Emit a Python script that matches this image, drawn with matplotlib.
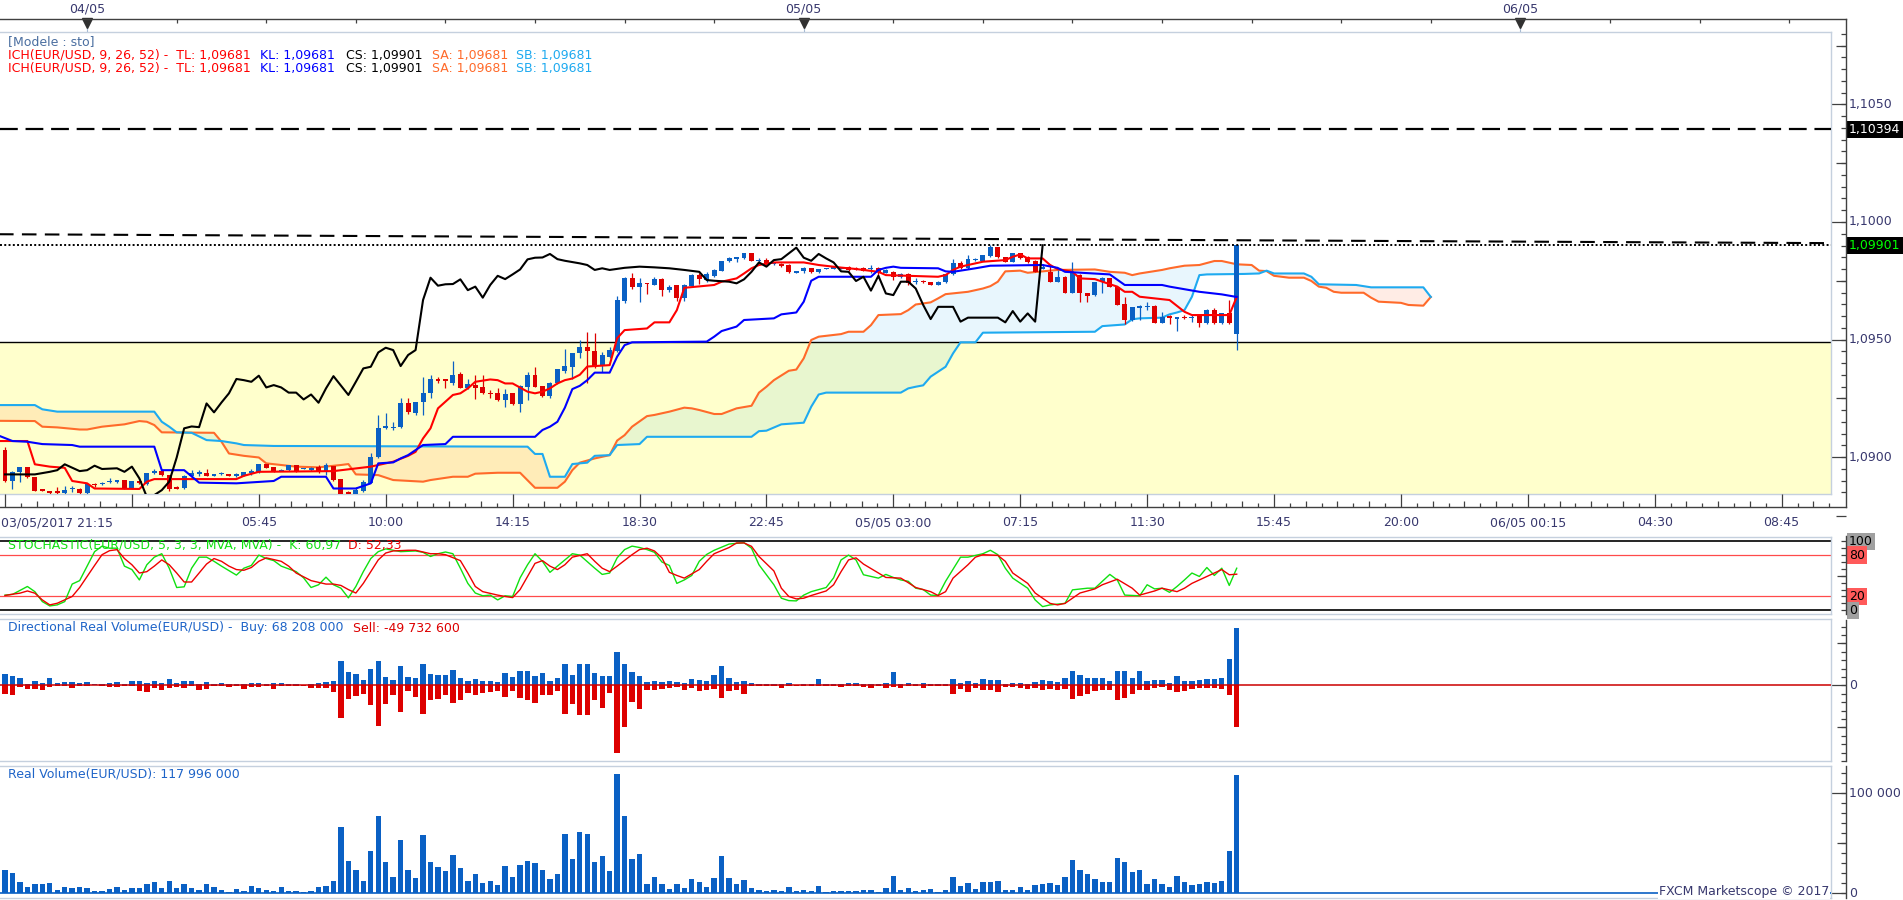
import numpy as np
import matplotlib
matplotlib.use("Agg")
import matplotlib.pyplot as plt
import matplotlib.transforms as mtransforms
from matplotlib.lines import Line2D
from matplotlib.collections import LineCollection

plt.rcParams['font.family'] = ['DejaVu Sans']
plt.rcParams['font.size'] = 9

# ---------------- candles, 15 min bars, bar 0 = 03/05/2017 21:15 ----------------
opens = [
    1.09030, 1.08898, 1.08935, 1.08956, 1.08913, 1.08862, 1.08855, 1.08855, 1.08845, 1.08864,
    1.08866, 1.08845, 1.08886, 1.08884, 1.08895, 1.08895, 1.08902, 1.08866, 1.08898, 1.08884,
    1.08930, 1.08940, 1.08923, 1.08874, 1.08869, 1.08920, 1.08931, 1.08930, 1.08923, 1.08929,
    1.08927, 1.08920, 1.08920, 1.08935, 1.08935, 1.08969, 1.08956, 1.08942, 1.08944, 1.08966,
    1.08950, 1.08944, 1.08956, 1.08937, 1.08961, 1.08906, 1.08852, 1.08838, 1.08857, 1.08891,
    1.08998, 1.09122, 1.09124, 1.09126, 1.09228, 1.09186, 1.09232, 1.09271, 1.09329, 1.09330,
    1.09316, 1.09353, 1.09295, 1.09306, 1.09299, 1.09272, 1.09271, 1.09242, 1.09271, 1.09224,
    1.09299, 1.09349, 1.09302, 1.09261, 1.09317, 1.09367, 1.09384, 1.09441, 1.09466, 1.09451,
    1.09387, 1.09427, 1.09451, 1.09664, 1.09763, 1.09725, 1.09740, 1.09732, 1.09757, 1.09710,
    1.09732, 1.09675, 1.09729, 1.09774, 1.09753, 1.09771, 1.09793, 1.09836, 1.09845, 1.09845,
    1.09866, 1.09836, 1.09838, 1.09822, 1.09821, 1.09817, 1.09786, 1.09793, 1.09803, 1.09786,
    1.09801, 1.09803, 1.09804, 1.09810, 1.09805, 1.09805, 1.09801, 1.09803, 1.09785, 1.09788,
    1.09764, 1.09777, 1.09745, 1.09747, 1.09743, 1.09734, 1.09743, 1.09778, 1.09827, 1.09803,
    1.09839, 1.09835, 1.09856, 1.09892, 1.09849, 1.09831, 1.09866, 1.09852, 1.09835, 1.09804,
    1.09788, 1.09746, 1.09767, 1.09700, 1.09774, 1.09696, 1.09689, 1.09743, 1.09760, 1.09725,
    1.09651, 1.09583, 1.09638, 1.09640, 1.09643, 1.09572, 1.09600, 1.09586, 1.09595, 1.09592,
    1.09604, 1.09571, 1.09625, 1.09571, 1.09611, 1.09523]
highs = [
    1.09044, 1.08940, 1.08958, 1.08958, 1.08915, 1.08866, 1.08857, 1.08874, 1.08876, 1.08876,
    1.08870, 1.08886, 1.08888, 1.08893, 1.08909, 1.08904, 1.08904, 1.08900, 1.08900, 1.08932,
    1.08951, 1.08942, 1.08925, 1.08876, 1.08922, 1.08944, 1.08944, 1.08947, 1.08929, 1.08937,
    1.08929, 1.08930, 1.08937, 1.08951, 1.08971, 1.08971, 1.08958, 1.08949, 1.08968, 1.08968,
    1.08954, 1.08956, 1.08966, 1.08973, 1.08963, 1.08908, 1.08855, 1.08874, 1.08902, 1.09015,
    1.09179, 1.09186, 1.09150, 1.09249, 1.09249, 1.09234, 1.09341, 1.09349, 1.09341, 1.09332,
    1.09408, 1.09363, 1.09334, 1.09349, 1.09349, 1.09285, 1.09295, 1.09289, 1.09273, 1.09305,
    1.09363, 1.09381, 1.09304, 1.09320, 1.09376, 1.09459, 1.09443, 1.09498, 1.09533, 1.09529,
    1.09448, 1.09469, 1.09685, 1.09767, 1.09784, 1.09760, 1.09742, 1.09764, 1.09760, 1.09730,
    1.09734, 1.09735, 1.09780, 1.09784, 1.09788, 1.09798, 1.09836, 1.09849, 1.09849, 1.09868,
    1.09868, 1.09845, 1.09845, 1.09830, 1.09825, 1.09820, 1.09793, 1.09810, 1.09805, 1.09800,
    1.09806, 1.09808, 1.09808, 1.09812, 1.09807, 1.09807, 1.09817, 1.09810, 1.09798, 1.09790,
    1.09781, 1.09781, 1.09763, 1.09753, 1.09745, 1.09748, 1.09780, 1.09841, 1.09834, 1.09859,
    1.09845, 1.09861, 1.09902, 1.09895, 1.09851, 1.09869, 1.09868, 1.09855, 1.09838, 1.09820,
    1.09820, 1.09796, 1.09769, 1.09831, 1.09777, 1.09699, 1.09745, 1.09764, 1.09763, 1.09727,
    1.09679, 1.09640, 1.09647, 1.09658, 1.09645, 1.09615, 1.09603, 1.09596, 1.09604, 1.09604,
    1.09606, 1.09628, 1.09635, 1.09613, 1.09668, 1.09902]
lows = [
    1.08895, 1.08866, 1.08893, 1.08910, 1.08855, 1.08855, 1.08840, 1.08840, 1.08842, 1.08852,
    1.08842, 1.08842, 1.08874, 1.08880, 1.08888, 1.08888, 1.08864, 1.08864, 1.08886, 1.08880,
    1.08928, 1.08920, 1.08855, 1.08862, 1.08866, 1.08909, 1.08920, 1.08918, 1.08920, 1.08925,
    1.08918, 1.08916, 1.08918, 1.08923, 1.08933, 1.08952, 1.08935, 1.08940, 1.08942, 1.08938,
    1.08947, 1.08942, 1.08930, 1.08923, 1.08900, 1.08820, 1.08825, 1.08830, 1.08852, 1.08889,
    1.08995, 1.09120, 1.09115, 1.09124, 1.09181, 1.09179, 1.09179, 1.09252, 1.09313, 1.09292,
    1.09306, 1.09292, 1.09290, 1.09245, 1.09268, 1.09249, 1.09240, 1.09214, 1.09222, 1.09190,
    1.09242, 1.09297, 1.09256, 1.09252, 1.09310, 1.09356, 1.09330, 1.09420, 1.09313, 1.09380,
    1.09363, 1.09420, 1.09448, 1.09654, 1.09715, 1.09661, 1.09692, 1.09730, 1.09685, 1.09703,
    1.09664, 1.09664, 1.09725, 1.09736, 1.09745, 1.09768, 1.09790, 1.09828, 1.09831, 1.09843,
    1.09833, 1.09817, 1.09818, 1.09815, 1.09810, 1.09785, 1.09783, 1.09781, 1.09783, 1.09783,
    1.09798, 1.09800, 1.09800, 1.09793, 1.09794, 1.09791, 1.09781, 1.09760, 1.09783, 1.09753,
    1.09760, 1.09732, 1.09735, 1.09739, 1.09732, 1.09732, 1.09740, 1.09776, 1.09800, 1.09800,
    1.09834, 1.09833, 1.09853, 1.09847, 1.09828, 1.09828, 1.09843, 1.09826, 1.09786, 1.09800,
    1.09743, 1.09743, 1.09697, 1.09697, 1.09661, 1.09661, 1.09686, 1.09700, 1.09722, 1.09645,
    1.09566, 1.09580, 1.09583, 1.09625, 1.09570, 1.09570, 1.09564, 1.09537, 1.09587, 1.09573,
    1.09554, 1.09568, 1.09568, 1.09568, 1.09568, 1.09455]
closes = [
    1.08898, 1.08937, 1.08956, 1.08913, 1.08857, 1.08859, 1.08845, 1.08845, 1.08859, 1.08868,
    1.08845, 1.08884, 1.08882, 1.08891, 1.08898, 1.08902, 1.08866, 1.08898, 1.08891, 1.08930,
    1.08940, 1.08923, 1.08866, 1.08866, 1.08920, 1.08930, 1.08933, 1.08920, 1.08927, 1.08931,
    1.08920, 1.08927, 1.08935, 1.08938, 1.08969, 1.08954, 1.08937, 1.08947, 1.08966, 1.08940,
    1.08952, 1.08954, 1.08937, 1.08966, 1.08902, 1.08830, 1.08838, 1.08859, 1.08895, 1.08998,
    1.09122, 1.09130, 1.09127, 1.09228, 1.09190, 1.09232, 1.09271, 1.09332, 1.09327, 1.09327,
    1.09349, 1.09295, 1.09310, 1.09292, 1.09271, 1.09270, 1.09242, 1.09268, 1.09225, 1.09302,
    1.09349, 1.09299, 1.09261, 1.09317, 1.09374, 1.09387, 1.09441, 1.09469, 1.09452, 1.09387,
    1.09434, 1.09455, 1.09668, 1.09763, 1.09725, 1.09739, 1.09738, 1.09757, 1.09710, 1.09725,
    1.09675, 1.09732, 1.09774, 1.09756, 1.09778, 1.09796, 1.09834, 1.09845, 1.09847, 1.09866,
    1.09835, 1.09838, 1.09821, 1.09826, 1.09814, 1.09788, 1.09790, 1.09803, 1.09786, 1.09798,
    1.09803, 1.09806, 1.09806, 1.09796, 1.09796, 1.09793, 1.09804, 1.09788, 1.09796, 1.09764,
    1.09777, 1.09739, 1.09748, 1.09745, 1.09734, 1.09746, 1.09778, 1.09827, 1.09803, 1.09841,
    1.09841, 1.09859, 1.09892, 1.09849, 1.09831, 1.09866, 1.09845, 1.09828, 1.09788, 1.09806,
    1.09746, 1.09767, 1.09700, 1.09781, 1.09696, 1.09685, 1.09743, 1.09760, 1.09725, 1.09647,
    1.09583, 1.09637, 1.09640, 1.09643, 1.09572, 1.09594, 1.09590, 1.09594, 1.09593, 1.09594,
    1.09571, 1.09625, 1.09571, 1.09611, 1.09571, 1.09901]

# ---------------- Ichimoku lines (bar index, price) ----------------
tenkan_idx = [-1, 3, 4, 6, 8, 9, 11, 12, 18, 19, 20, 31, 32, 34, 44, 49, 52, 54, 55, 56,
              57, 58, 60, 61, 62, 63, 65, 66, 67, 68, 70, 71, 72, 73, 74, 75, 76, 77, 78, 81,
              82, 83, 86, 87, 89, 90, 91, 95, 96, 98, 99, 100, 101, 103, 107, 109, 112, 114, 117, 118,
              125, 126, 127, 128, 130, 131, 134, 135, 136, 137, 139, 140, 141, 143, 144, 146, 147, 149, 150, 151,
              152, 156, 158, 159, 164, 165]
tenkan_val = [1.09068, 1.09068, 1.08969, 1.08959, 1.08954, 1.08898, 1.08888, 1.08866, 1.08864, 1.08895,
              1.08906, 1.08906, 1.08920, 1.08937, 1.08940, 1.08959, 1.08980, 1.09005, 1.09022, 1.09079,
              1.09122, 1.09207, 1.09264, 1.09271, 1.09292, 1.09320, 1.09330, 1.09327, 1.09313, 1.09313,
              1.09278, 1.09271, 1.09278, 1.09292, 1.09313, 1.09327, 1.09334, 1.09350, 1.09385, 1.09391,
              1.09505, 1.09540, 1.09547, 1.09573, 1.09573, 1.09625, 1.09720, 1.09732, 1.09746, 1.09760,
              1.09781, 1.09803, 1.09817, 1.09828, 1.09828, 1.09817, 1.09806, 1.09800, 1.09788, 1.09774,
              1.09767, 1.09774, 1.09796, 1.09810, 1.09824, 1.09831, 1.09838, 1.09852, 1.09862, 1.09845,
              1.09845, 1.09817, 1.09800, 1.09788, 1.09760, 1.09757, 1.09746, 1.09725, 1.09703, 1.09703,
              1.09682, 1.09668, 1.09618, 1.09604, 1.09604, 1.09681]

kijun_idx = [-1, 1, 3, 5, 9, 10, 20, 21, 24, 26, 31, 36, 37, 43, 44, 47, 49, 50, 52, 53,
             54, 56, 59, 60, 71, 72, 73, 74, 75, 76, 77, 78, 79, 81, 82, 83, 84, 94, 95, 96,
             98, 99, 103, 104, 106, 107, 108, 109, 116, 117, 118, 119, 120, 125, 126, 127, 130, 132, 139, 141,
             142, 148, 150, 155, 156, 160, 163, 165]
kijun_val = [1.09093, 1.09068, 1.09065, 1.09055, 1.09051, 1.09044, 1.09044, 1.08944, 1.08944, 1.08891,
             1.08888, 1.08898, 1.08916, 1.08916, 1.08866, 1.08866, 1.08888, 1.08973, 1.08977, 1.08994,
             1.09008, 1.09051, 1.09055, 1.09086, 1.09086, 1.09115, 1.09129, 1.09150, 1.09210, 1.09289,
             1.09303, 1.09327, 1.09359, 1.09359, 1.09427, 1.09476, 1.09488, 1.09491, 1.09512, 1.09536,
             1.09555, 1.09583, 1.09590, 1.09607, 1.09615, 1.09661, 1.09750, 1.09767, 1.09767, 1.09796,
             1.09805, 1.09810, 1.09805, 1.09803, 1.09790, 1.09788, 1.09803, 1.09814, 1.09817, 1.09805,
             1.09788, 1.09777, 1.09732, 1.09732, 1.09725, 1.09703, 1.09692, 1.09681]

chikou_idx = [0, 4, 6, 7, 8, 10, 11, 12, 13, 15, 16, 17, 18, 19, 20, 21, 22, 23, 24, 25,
              26, 27, 28, 29, 30, 31, 32, 33, 34, 35, 36, 37, 38, 39, 40, 41, 42, 43, 44, 46,
              47, 48, 49, 50, 51, 52, 53, 54, 55, 56, 57, 58, 59, 60, 61, 62, 63, 64, 65, 66,
              67, 68, 69, 70, 71, 72, 73, 74, 75, 77, 78, 79, 80, 81, 83, 85, 87, 89, 91, 93,
              94, 95, 97, 98, 99, 100, 101, 102, 103, 104, 106, 107, 108, 109, 110, 111, 112, 113, 114, 115,
              116, 117, 118, 119, 120, 121, 122, 123, 124, 125, 127, 128, 129, 133, 134, 135, 136, 137, 138, 139]
chikou_val = [1.08926, 1.08926, 1.08937, 1.08944, 1.08969, 1.08940, 1.08944, 1.08963, 1.08949, 1.08952,
              1.08937, 1.08959, 1.08909, 1.08830, 1.08838, 1.08859, 1.08895, 1.08998, 1.09122, 1.09130,
              1.09127, 1.09228, 1.09190, 1.09232, 1.09271, 1.09332, 1.09327, 1.09320, 1.09346, 1.09296,
              1.09306, 1.09296, 1.09274, 1.09274, 1.09245, 1.09266, 1.09231, 1.09292, 1.09344, 1.09264,
              1.09320, 1.09377, 1.09384, 1.09445, 1.09465, 1.09455, 1.09387, 1.09434, 1.09455, 1.09668,
              1.09763, 1.09729, 1.09735, 1.09736, 1.09756, 1.09710, 1.09725, 1.09678, 1.09732, 1.09771,
              1.09757, 1.09777, 1.09798, 1.09841, 1.09848, 1.09849, 1.09864, 1.09842, 1.09835, 1.09824,
              1.09817, 1.09796, 1.09803, 1.09796, 1.09805, 1.09810, 1.09807, 1.09803, 1.09796, 1.09788,
              1.09753, 1.09750, 1.09746, 1.09739, 1.09756, 1.09788, 1.09828, 1.09810, 1.09838, 1.09842,
              1.09891, 1.09848, 1.09835, 1.09864, 1.09845, 1.09828, 1.09790, 1.09788, 1.09749, 1.09767,
              1.09708, 1.09771, 1.09696, 1.09689, 1.09746, 1.09746, 1.09717, 1.09647, 1.09587, 1.09639,
              1.09639, 1.09576, 1.09593, 1.09593, 1.09573, 1.09621, 1.09576, 1.09611, 1.09576, 1.09901]

senkou_a_idx = [-1, 4, 5, 7, 10, 11, 13, 16, 18, 19, 20, 21, 28, 29, 30, 32, 34, 35, 37, 39,
                42, 45, 46, 47, 50, 52, 56, 57, 60, 62, 63, 66, 69, 71, 74, 75, 76, 77, 79, 81,
                82, 83, 84, 86, 87, 89, 91, 92, 93, 95, 96, 98, 100, 101, 102, 103, 105, 106, 107, 108,
                109, 112, 113, 115, 116, 117, 120, 121, 122, 124, 125, 126, 129, 131, 132, 133, 134, 136, 137, 141,
                146, 148, 150, 151, 152, 155, 156, 158, 160, 162, 163, 165, 167, 168, 169, 170, 172, 174, 175, 176,
                177, 178, 179, 182, 183, 184, 187, 188, 190, 191]
senkou_a_val = [1.09154, 1.09153, 1.09129, 1.09126, 1.09117, 1.09117, 1.09129, 1.09139, 1.09153, 1.09150,
                1.09136, 1.09105, 1.09103, 1.09065, 1.09015, 1.09005, 1.08998, 1.08973, 1.08966, 1.08959,
                1.08956, 1.08966, 1.08970, 1.08926, 1.08923, 1.08902, 1.08895, 1.08902, 1.08916, 1.08916,
                1.08929, 1.08933, 1.08933, 1.08869, 1.08869, 1.08895, 1.08944, 1.08976, 1.08994, 1.09008,
                1.09070, 1.09093, 1.09129, 1.09174, 1.09179, 1.09193, 1.09210, 1.09207, 1.09200, 1.09183,
                1.09183, 1.09207, 1.09218, 1.09274, 1.09299, 1.09327, 1.09367, 1.09372, 1.09420, 1.09498,
                1.09512, 1.09523, 1.09533, 1.09533, 1.09561, 1.09604, 1.09608, 1.09625, 1.09649, 1.09658,
                1.09675, 1.09693, 1.09703, 1.09717, 1.09727, 1.09746, 1.09790, 1.09793, 1.09784, 1.09796,
                1.09798, 1.09788, 1.09784, 1.09774, 1.09781, 1.09796, 1.09803, 1.09814, 1.09817, 1.09834,
                1.09834, 1.09820, 1.09817, 1.09793, 1.09791, 1.09771, 1.09763, 1.09763, 1.09749, 1.09725,
                1.09720, 1.09703, 1.09699, 1.09699, 1.09678, 1.09661, 1.09656, 1.09647, 1.09644, 1.09681]

senkou_b_idx = [-1, 4, 5, 7, 20, 21, 22, 23, 25, 27, 29, 31, 32, 36, 70, 71, 72, 73, 75, 76,
                78, 79, 81, 82, 85, 86, 100, 101, 102, 104, 107, 108, 109, 110, 120, 121, 122, 123, 124, 125,
                126, 127, 128, 130, 131, 146, 147, 150, 151, 152, 155, 156, 157, 158, 159, 160, 161, 166, 168, 169,
                170, 174, 175, 176, 181, 182, 183, 190, 191]
senkou_b_val = [1.09221, 1.09221, 1.09203, 1.09193, 1.09193, 1.09150, 1.09129, 1.09105, 1.09103, 1.09072,
                1.09068, 1.09058, 1.09051, 1.09047, 1.09044, 1.09013, 1.09013, 1.08916, 1.08916, 1.08970,
                1.08976, 1.09005, 1.09008, 1.09051, 1.09055, 1.09086, 1.09086, 1.09110, 1.09112, 1.09139,
                1.09146, 1.09214, 1.09266, 1.09274, 1.09274, 1.09292, 1.09299, 1.09305, 1.09342, 1.09363,
                1.09384, 1.09441, 1.09488, 1.09488, 1.09529, 1.09533, 1.09557, 1.09564, 1.09586, 1.09590,
                1.09593, 1.09607, 1.09615, 1.09625, 1.09682, 1.09774, 1.09777, 1.09779, 1.09781, 1.09793,
                1.09781, 1.09781, 1.09767, 1.09735, 1.09732, 1.09727, 1.09722, 1.09722, 1.09681]

# horizontal levels
level_high = 1.10394
level_close = 1.09901
zone_level = 1.09488
trend_idx = [-1, 245]
trend_val = [1.09948, 1.09910]

# ---------------- Stochastic (5,3,3) ----------------
stoch_k_idx = [0, 1, 3, 4, 5, 6, 7, 8, 9, 10, 11, 12, 13, 14, 15, 16, 17, 18, 19, 20,
               21, 22, 23, 24, 25, 26, 27, 28, 29, 31, 32, 33, 34, 35, 36, 37, 39, 40, 41, 42,
               43, 44, 45, 46, 47, 48, 49, 50, 51, 53, 55, 56, 57, 58, 59, 60, 61, 62, 63, 64,
               65, 66, 67, 68, 69, 70, 71, 72, 73, 74, 75, 76, 77, 79, 80, 81, 82, 83, 84, 85,
               86, 87, 88, 89, 90, 91, 92, 93, 94, 95, 97, 99, 100, 101, 103, 104, 105, 106, 107, 108,
               110, 111, 112, 113, 114, 115, 117, 118, 119, 120, 121, 122, 123, 124, 125, 126, 128, 129, 131, 132,
               133, 134, 135, 137, 138, 139, 140, 142, 143, 145, 146, 148, 149, 150, 152, 153, 154, 155, 156, 157,
               158, 159, 160, 161, 162, 163, 164, 165]
stoch_k_val = [22, 23, 34.5, 27, 12.6, 6.3, 7.8, 12.6, 38, 43, 64, 85, 93, 90, 90, 64, 59, 44, 66, 77,
               82, 61, 33, 34, 61, 77, 77, 71, 64, 51, 61, 65, 80, 75, 72, 64, 56, 47, 33, 37,
               48, 37, 32, 18, 34.5, 56, 75, 85, 89, 85, 86, 84, 78, 82, 84.5, 82, 61, 39, 25, 21,
               22, 15, 21, 20, 47, 66, 82, 71, 55, 64, 73, 82, 80, 61, 52, 54, 76, 88, 93, 91,
               88, 84, 70, 65, 39, 44, 50.5, 71, 81, 87, 96, 98, 90, 66, 37, 17.5, 14, 13.6, 22, 27,
               33, 47, 73, 80, 73, 51.5, 46.6, 52, 47.6, 44, 42, 32, 30, 22, 21.4, 42, 77, 77, 82, 87,
               80.6, 61, 46.6, 32, 15, 5.3, 7.8, 10, 29.6, 32, 32, 52, 44, 22, 21, 37, 31, 32, 26, 34.5,
               44, 54, 49, 62, 50.5, 61, 36, 60.97]
stoch_d_idx = [0, 1, 2, 3, 4, 5, 6, 7, 9, 10, 11, 12, 13, 14, 15, 16, 17, 18, 19, 20,
               21, 22, 23, 24, 25, 26, 27, 28, 29, 30, 31, 32, 33, 34, 35, 37, 38, 39, 41, 43,
               44, 45, 46, 47, 48, 49, 50, 51, 52, 54, 55, 57, 58, 59, 61, 62, 63, 64, 66, 67,
               68, 69, 70, 71, 72, 73, 74, 75, 76, 78, 79, 80, 81, 82, 84, 85, 86, 87, 88, 89,
               90, 91, 93, 94, 95, 97, 98, 99, 100, 101, 103, 104, 105, 106, 107, 108, 110, 111, 112, 113,
               114, 115, 117, 118, 120, 121, 122, 124, 125, 126, 127, 129, 130, 131, 133, 134, 135, 137, 138, 140,
               141, 142, 143, 144, 146, 147, 149, 151, 152, 154, 155, 157, 158, 159, 161, 162, 163, 164, 165]
stoch_d_val = [21.4, 23.3, 24.8, 28, 24.8, 15, 7.8, 10.2, 20, 33, 49, 65, 80.6, 86.4, 87.9, 75, 66, 54, 56, 64,
               73, 66, 54, 41, 41, 54, 67, 75, 71, 64, 59, 58, 62, 71, 76, 71, 64, 54, 43, 38,
               38, 36, 30, 25, 39, 56, 73, 83, 86, 87, 87, 82, 82, 80.6, 72, 54, 34.5, 27, 22, 20,
               18.4, 30, 49, 68, 72, 64, 59, 66, 77, 82, 71, 61, 56, 64, 80.6, 88, 90, 86, 76, 55,
               50.5, 46.6, 59, 71, 82, 91, 97.6, 97.6, 92.7, 78, 57, 32, 20, 16.5, 17.5, 21.4, 28, 37, 56, 73,
               76, 67, 54, 47.6, 46.6, 40, 33, 27, 21.4, 27, 46.6, 66, 77, 80.6, 79.6, 71, 54, 39, 25, 10,
               7.8, 10, 17.5, 25, 31, 37, 45, 32, 22, 28, 32, 27, 32, 39, 49, 54, 59, 51.5, 52.33]

# ---------------- volumes, millions ----------------
buy_vol = [
    13.3, 10.6, 8.6, 2.0, 5.5, 2.7, 8.6, 2.7, 3.9, 3.9,
    2.7, 3.9, 2.0, 2.0, 2.7, 3.9, 2.0, 5.5, 5.5, 2.7,
    4.7, 2.7, 7.4, 2.7, 5.5, 4.7, 2.0, 3.9, 1.6, 2.7,
    2.0, 1.6, 2.0, 2.7, 2.7, 1.6, 2.7, 2.7, 1.6, 1.6,
    0.4, 1.6, 2.7, 3.9, 5.5, 29.0, 15.7, 13.3, 6.7, 19.2,
    29.0, 9.8, 6.7, 23.1, 9.8, 8.6, 25.5, 13.3, 11.8, 12.5,
    18.0, 8.6, 5.5, 7.4, 4.7, 5.5, 3.9, 14.5, 9.8, 17.2,
    16.5, 10.6, 14.5, 5.5, 8.6, 25.5, 12.5, 25.5, 25.5, 14.5,
    11.4, 11.4, 39.6, 25.5, 15.3, 11.4, 3.9, 5.5, 3.9, 5.5,
    3.9, 2.7, 7.4, 6.7, 5.5, 12.5, 23.1, 8.6, 3.9, 5.5,
    2.7, 2.0, 2.0, 1.6, 1.6, 2.7, 0.8, 1.6, 1.6, 7.4,
    1.6, 1.6, 2.0, 2.7, 2.7, 2.0, 1.6, 1.6, 2.7, 15.7,
    2.0, 2.7, 2.0, 2.7, 1.6, 1.6, 2.0, 7.4, 2.7, 4.7,
    2.7, 7.4, 6.3, 6.3, 2.0, 2.7, 2.7, 2.0, 3.9, 6.3,
    5.5, 3.9, 8.6, 17.6, 11.8, 8.6, 8.6, 8.6, 4.7, 17.6,
    17.2, 8.6, 16.5, 5.5, 6.3, 6.3, 2.7, 10.6, 5.5, 5.5,
    6.7, 7.4, 7.4, 8.6, 31.0, 68.2]
sell_vol = [
    -10.2, -11.0, -2.4, -3.9, -3.9, -5.1, -2.0, -1.2, -1.2, -3.1,
    -1.2, -1.2, -0.2, -1.2, -2.4, -2.0, -1.2, -1.2, -7.1, -7.8,
    -3.1, -5.1, -3.1, -2.4, -3.1, -1.2, -5.1, -3.9, -1.2, -0.4,
    -2.0, -1.2, -3.9, -1.6, -2.0, -1.2, -4.3, -1.2, -0.8, -0.4,
    -1.2, -3.1, -3.1, -3.1, -7.8, -38.4, -16.1, -12.9, -9.8, -23.9,
    -48.6, -22.0, -11.0, -31.4, -7.1, -13.7, -33.7, -18.0, -15.7, -11.0,
    -20.8, -16.9, -9.0, -11.0, -9.0, -7.8, -7.1, -13.7, -6.3, -14.9,
    -16.9, -20.8, -11.0, -11.0, -7.1, -34.5, -22.7, -35.7, -35.7, -16.9,
    -26.7, -9.0, -80.8, -50.2, -19.6, -28.6, -5.5, -5.1, -3.9, -3.1,
    -2.0, -5.1, -3.1, -6.3, -5.5, -3.9, -14.9, -6.3, -5.1, -9.8,
    -1.2, -1.2, -1.2, -0.4, -3.1, -1.2, -1.2, -1.2, -0.4, -1.2,
    -1.2, -1.2, -1.6, -1.2, -1.2, -2.4, -3.1, -1.2, -3.1, -2.4,
    -3.1, -1.2, -1.2, -3.1, -1.2, -1.2, -1.2, -9.8, -3.9, -7.8,
    -3.1, -5.1, -5.1, -7.8, -2.4, -2.0, -3.1, -3.9, -3.1, -5.1,
    -3.9, -5.9, -3.9, -15.7, -12.2, -10.2, -7.1, -5.1, -5.1, -16.9,
    -14.9, -10.2, -5.1, -5.9, -3.1, -2.4, -5.1, -7.8, -7.1, -4.3,
    -3.1, -3.1, -3.1, -3.9, -11.0, -49.7]
real_vol = [
    23.6, 20.7, 11.8, 5.9, 8.9, 8.9, 10.8, 3.0, 5.9, 4.9,
    5.9, 4.9, 2.0, 2.0, 3.9, 5.9, 3.0, 4.9, 4.9, 8.9,
    11.8, 4.9, 12.8, 4.9, 8.9, 4.9, 3.0, 8.9, 5.9, 3.0,
    1.0, 3.9, 2.0, 6.9, 4.9, 3.0, 2.0, 5.9, 2.0, 2.0,
    1.0, 2.0, 5.9, 6.9, 12.8, 65.9, 32.5, 23.6, 12.8, 42.3,
    77.7, 31.5, 16.7, 53.1, 23.6, 15.7, 58.0, 31.5, 26.6, 22.6,
    38.4, 25.6, 12.8, 19.7, 10.8, 12.8, 7.9, 27.5, 16.7, 28.5,
    32.5, 30.5, 23.6, 14.8, 19.7, 59.0, 34.4, 61.0, 59.0, 31.5,
    37.4, 22.6, 119.0, 77.7, 34.4, 39.3, 9.8, 16.7, 9.8, 3.9,
    9.8, 4.9, 14.8, 11.8, 5.9, 15.7, 37.4, 15.7, 8.9, 13.8,
    4.9, 3.0, 2.0, 3.0, 2.0, 5.9, 2.0, 3.0, 2.0, 6.9,
    1.0, 2.0, 2.0, 2.0, 2.0, 3.0, 3.0, 1.0, 4.9, 17.7,
    3.0, 4.9, 2.0, 3.0, 3.9, 1.0, 3.0, 16.7, 6.9, 10.8,
    3.9, 11.8, 11.8, 12.8, 3.0, 3.0, 5.9, 3.0, 7.9, 9.8,
    10.8, 7.9, 16.7, 33.4, 23.6, 19.7, 14.8, 11.8, 11.8, 35.4,
    31.5, 21.6, 23.6, 8.9, 14.8, 9.8, 5.9, 17.7, 11.8, 7.9,
    9.8, 11.8, 10.8, 12.8, 42.3, 118.0]

# time axis labels
time_tick_idx = [34, 51, 68, 85, 102, 119, 136, 153, 170, 187, 204, 221, 238]
time_tick_lab = ["05:45", "10:00", "14:15", "18:30", "22:45", "05/05 03:00", "07:15",
                 "11:30", "15:45", "20:00", "06/05 00:15", "04:30", "08:45"]
day_idx = [11, 107, 203]
day_lab = ["04/05", "05/05", "06/05"]

# ---------------- style ----------------
BLUE = '#0a60c4'
RED = '#dd0000'
TL_C = '#ff0000'
KL_C = '#0000ff'
SA_C = '#ff6a2a'
SB_C = '#1eaaf0'
AXIS_C = '#404040'
LAB_C = '#38386e'
BORDER = '#c5d0de'
W, H = 1903, 900
X_PANEL, X_AXIS = 1830.7, 1845.7
XMIN, XMAX = -0.67, 244.57

fig = plt.figure(figsize=(W / 100, H / 100), dpi=100)
fig.patch.set_facecolor('white')


def fx(px):
    return px / W


def fy(py):
    return 1 - py / H


def fline(x0, y0, x1, y1, **kw):
    fig.add_artist(Line2D([fx(x0), fx(x1)], [fy(y0), fy(y1)], transform=fig.transFigure, **kw))


def panel(y0, y1):
    a = fig.add_axes([0, fy(y1), fx(X_PANEL), (y1 - y0) / H])
    a.set_xlim(XMIN, XMAX)
    a.set_xticks([])
    a.set_yticks([])
    for s in a.spines.values():
        s.set_color(BORDER)
        s.set_linewidth(1.0)
    a.spines['left'].set_visible(False)
    return a


def right_ticks(a, vals, length):
    tr = mtransforms.blended_transform_factory(fig.transFigure, a.transData)
    segs = [[(fx(X_AXIS - length), v), (fx(X_AXIS), v)] for v in vals]
    lc = LineCollection(segs, colors=AXIS_C, linewidths=0.9, transform=tr, clip_on=False)
    a.add_collection(lc, autolim=False)


def right_label(a, v, s, color=LAB_C, box=None):
    tr = mtransforms.blended_transform_factory(fig.transFigure, a.transData)
    kw = {}
    if box is not None:
        kw['bbox'] = dict(boxstyle='square,pad=0.18', fc=box, ec='none')
    a.text(fx(1849), v, s, transform=tr, ha='left', va='center', fontsize=9,
           color=color, clip_on=False, **kw)


# ================= main price panel =================
ax = panel(32.3, 494)
ymin, ymax = 1.088426, 1.108072
ax.set_ylim(ymin, ymax)

ax.axhspan(ymin, zone_level, color='#ffffcc', zorder=0, lw=0)
ax.axhline(zone_level, color='black', lw=1.0, zorder=2)

# cloud
xs = np.union1d(senkou_a_idx, senkou_b_idx)
a_line = np.interp(xs, senkou_a_idx, senkou_a_val)
b_line = np.interp(xs, senkou_b_idx, senkou_b_val)
ax.fill_between(xs, a_line, b_line, where=a_line >= b_line, interpolate=True,
                color=SB_C, alpha=0.1, lw=0, zorder=1)
ax.fill_between(xs, a_line, b_line, where=a_line < b_line, interpolate=True,
                color=SA_C, alpha=0.12, lw=0, zorder=1)
ax.plot(senkou_a_idx, senkou_a_val, color=SA_C, lw=1.5, zorder=2.5)
ax.plot(senkou_b_idx, senkou_b_val, color=SB_C, lw=1.5, zorder=2.5)

# candles
idx = np.arange(len(opens))
o = np.array(opens)
c = np.array(closes)
col = np.where(c >= o, BLUE, RED)
ax.vlines(idx, lows, highs, colors=col, lw=0.9, zorder=3)
ax.bar(idx, np.maximum(np.abs(c - o), 0.00006), 0.66, np.minimum(o, c) - 0.00002 * (np.abs(c - o) < 0.00006),
       color=col, lw=0, zorder=3)

ax.plot(tenkan_idx, tenkan_val, color=TL_C, lw=1.5, zorder=4)
ax.plot(kijun_idx, kijun_val, color=KL_C, lw=1.5, zorder=4)
ax.plot(chikou_idx, chikou_val, color='black', lw=1.5, zorder=4.5)

ax.axhline(level_high, color='black', lw=1.6, dashes=(8, 3.5), zorder=5)
ax.plot(trend_idx, trend_val, color='black', lw=1.5, dashes=(7, 4), zorder=5)
ax.axhline(level_close, color='black', lw=1.4, dashes=(1, 1.2), zorder=5)

# right price axis
fline(X_AXIS, 19.3, X_AXIS, 507.3, color=AXIS_C, lw=1.0)
minor = np.arange(1.0885, 1.1081, 0.0005)
right_ticks(ax, minor, 5)
right_ticks(ax, [1.0875 + 0.005 * k for k in range(5)], 10)
right_ticks(ax, [1.0900, 1.0950, 1.1000, 1.1050], 15)
for v in [1.0900, 1.0950, 1.1000, 1.1050]:
    right_label(ax, v, f"{v:.4f}".replace('.', ','))
right_label(ax, level_high, f"{level_high:.5f}".replace('.', ','), color='white', box='black')
right_label(ax, level_close, f"{level_close:.5f}".replace('.', ','), color='#00ff00', box='black')

# legend text
fig.text(fx(8), fy(41.7), "[Modele : sto]", color='#4a6ea0', fontsize=9, va='center')
for yy in (55.0, 68.3):
    fig.text(fx(8), fy(yy), "ICH(EUR/USD, 9, 26, 52) -  TL: 1,09681", color=TL_C, fontsize=9, va='center')
    fig.text(fx(260), fy(yy), "KL: 1,09681", color=KL_C, fontsize=9, va='center')
    fig.text(fx(346), fy(yy), "CS: 1,09901", color='black', fontsize=9, va='center')
    fig.text(fx(432), fy(yy), "SA: 1,09681", color=SA_C, fontsize=9, va='center')
    fig.text(fx(516), fy(yy), "SB: 1,09681", color=SB_C, fontsize=9, va='center')

# ================= top date axis =================
dax = fig.add_axes([0, fy(32.3), fx(X_PANEL), 13 / H])
dax.set_xlim(XMIN, XMAX)
dax.set_ylim(0, 1)
dax.axis('off')
fline(0, 19.3, X_AXIS, 19.3, color=AXIS_C, lw=1.0)
top_ticks = np.arange(11, 245, 12)
dax.vlines(top_ticks, 0.72, 1.0, color=AXIS_C, lw=0.9)
dax.vlines(day_idx, 0.0, 0.4, color='#a8bcd4', lw=0.8)
dax.plot(day_idx, [0.72] * 3, 'v', color='#303030', ms=6.5, clip_on=False)
for d, s in zip(day_idx, day_lab):
    dax.text(d, 1.78, s, ha='center', va='center', fontsize=9, color=LAB_C, clip_on=False)

# ================= time axis strip =================
tax = fig.add_axes([0, fy(507.3), fx(X_PANEL), 13.3 / H])
tax.set_xlim(XMIN, XMAX)
tax.set_ylim(0, 1)
tax.axis('off')
fline(0, 507.3, X_AXIS, 507.3, color=AXIS_C, lw=1.0)
majors = np.arange(0, 245, 17)
tax.vlines(majors, 0, 1, color=AXIS_C, lw=0.9)
for m in majors:
    for k in range(1, 8):
        xm = m + k * 17 / 8
        if xm < XMAX:
            tax.vlines(xm, 0, 0.5 if k % 2 == 0 else 0.3, color=AXIS_C, lw=0.9)
tax.text(-0.55, -1.16, "03/05/2017 21:15", ha='left', va='center', fontsize=9, color=LAB_C)
for t, s in zip(time_tick_idx, time_tick_lab):
    tax.text(t, -1.16, s, ha='center', va='center', fontsize=9, color=LAB_C)

# ================= stochastic =================
sax = panel(537.3, 614)
sax.set_ylim(-5.4, 105.8)
sax.axhline(100, color='black', lw=1.2)
sax.axhline(0, color='black', lw=1.2)
sax.axhline(80, color='#ff4a4a', lw=0.9)
sax.axhline(20, color='#ff4a4a', lw=0.9)
sax.plot(stoch_k_idx, stoch_k_val, color='#10e010', lw=1.0, zorder=3)
sax.plot(stoch_d_idx, stoch_d_val, color='#ee0000', lw=1.0, zorder=3)
fline(X_AXIS, 536, X_AXIS, 614, color=AXIS_C, lw=1.0)
right_ticks(sax, range(0, 101, 10), 5)
right_ticks(sax, [50], 9)
right_label(sax, 100, "100", color='black', box='#a0a0a0')
right_label(sax, 80, "80", color='black', box='#ff5a5a')
right_label(sax, 20, "20", color='black', box='#ff5a5a')
right_label(sax, 0, "0", color='black', box='#a0a0a0')
fig.text(fx(8), fy(545), "STOCHASTIC(EUR/USD, 5, 3, 3, MVA, MVA) -  K: 60,97",
         color='#10e010', fontsize=9, va='center')
fig.text(fx(348), fy(545), "D: 52,33", color='#ee0000', fontsize=9, va='center')

# ================= directional real volume =================
vax = panel(619.3, 761)
vax.set_ylim(-90.1, 78.6)
vax.bar(idx, buy_vol, 0.72, color=BLUE, lw=0, zorder=2)
vax.bar(idx, sell_vol, 0.72, color=RED, lw=0, zorder=2)
vax.axhline(0, color='#cc0000', lw=1.1, zorder=3)
fline(X_AXIS, 620, X_AXIS, 761, color=AXIS_C, lw=1.0)
right_ticks(vax, range(-90, 79, 10), 5)
right_ticks(vax, [-50, 50], 9)
right_ticks(vax, [0], 15)
right_label(vax, 0, "0")
fig.text(fx(8), fy(628), "Directional Real Volume(EUR/USD) -  Buy: 68 208 000",
         color='#1e64c8', fontsize=9, va='center')
fig.text(fx(353), fy(628), "Sell: -49 732 600", color='#dd0000', fontsize=9, va='center')

# ================= real volume =================
rax = panel(765.7, 898.3)
rax.set_ylim(-5.0, 127.6)
rax.bar(idx, real_vol, 0.72, color=BLUE, lw=0, zorder=2)
rax.axhline(0, color=BLUE, lw=1.2, zorder=3)
fline(X_AXIS, 766, X_AXIS, 898.3, color=AXIS_C, lw=1.0)
right_ticks(rax, range(0, 127, 10), 5)
right_ticks(rax, [50], 9)
right_ticks(rax, [0, 100], 15)
right_label(rax, 100, "100 000")
right_label(rax, 0, "0")
fig.text(fx(8), fy(774), "Real Volume(EUR/USD): 117 996 000", color='#1e64c8', fontsize=9, va='center')
fig.text(fx(1829), fy(891.5), "FXCM Marketscope \u00a9 2017", color=LAB_C, fontsize=9,
         va='center', ha='right', bbox=dict(boxstyle='square,pad=0.05', fc='white', ec='none'))

fig.savefig('out.png', dpi=100, facecolor='white')
